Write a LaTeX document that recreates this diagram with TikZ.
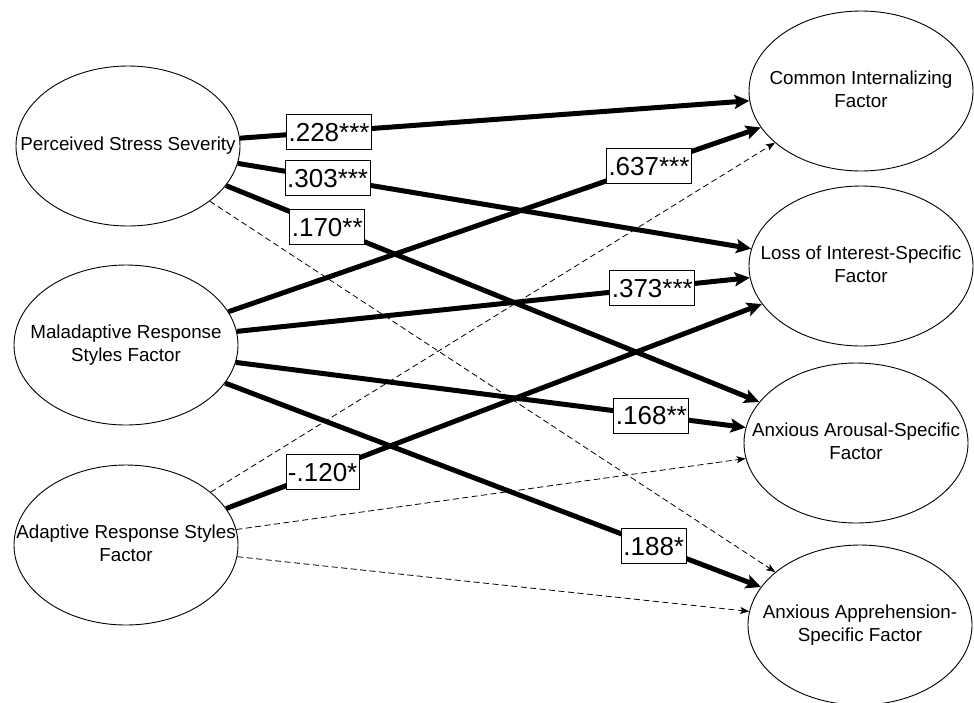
\documentclass[tikz,border=0pt]{standalone}
\usepackage{fontspec}
\setmainfont{Liberation Sans}
\usetikzlibrary{shapes.geometric,arrows.meta}
\newcommand{\lat}[1]{\makebox[0pt]{\begin{tabular}{@{}c@{}}#1\end{tabular}}}
\begin{document}
\begin{tikzpicture}[x=1pt,y=-1pt,
  latent/.style={ellipse,draw,line width=0.9pt,minimum width=224pt,minimum height=160pt,inner sep=0pt,font=\fontsize{18.8}{23}\selectfont},
  strong/.style={line width=5pt,-{Stealth[length=15pt,width=14pt,inset=3pt]}},
  weak/.style={line width=0.8pt,dash pattern=on 6pt off 3.5pt,-{Stealth[length=9pt,width=7pt,inset=2pt]}},
  coef/.style={draw,fill=white,line width=0.9pt,inner xsep=2pt,inner ysep=8pt,text height=19pt,text depth=0pt,font=\fontsize{26}{30}\selectfont}]
\useasboundingbox (0,0) rectangle (974,702);
\fill[white] (0,0) rectangle (974,702);

\node[latent] (pss) at (128,146) {\lat{Perceived Stress Severity}};
\node[latent] (mal) at (126,345) {\lat{Maladaptive Response\\Styles Factor}};
\node[latent] (ada) at (126,545) {\lat{Adaptive Response Styles\\Factor}};
\node[latent] (com) at (861,91) {\lat{Common Internalizing\\Factor}};
\node[latent] (los) at (861,266) {\lat{Loss of Interest-Specific\\Factor}};
\node[latent] (aro) at (856,443) {\lat{Anxious Arousal-Specific\\Factor}};
\node[latent] (app) at (860,625) {\lat{Anxious Apprehension-\\Specific Factor}};

\draw[weak] (pss.-34) -- (app.148);
\draw[weak] (ada.32) -- (com.211);
\draw[weak] (ada.8) -- (aro.188);
\draw[weak] (ada.-6) -- (app.173);

\draw[strong] (pss.4) -- node[coef,pos=0.175] (l1) {.228***} (com.185);
\draw[strong] (pss.-9) -- node[coef,pos=0.175] (l2) {.303***} (los.171);
\draw[strong] (pss.-22) -- node[coef,pos=0.19] (l3) {.170**} (aro.157);
\draw[strong] (mal.18) -- node[coef,pos=0.79] (l4) {.637***} (com.200);
\draw[strong] (mal.7) -- node[coef,pos=0.81] (l5) {.373***} (los.186);
\draw[strong] (mal.-9) -- node[coef,pos=0.815] (l6) {.168**} (aro.172);
\draw[strong] (mal.-21) -- node[coef,pos=0.8] (l7) {.188*} (app.159);
\draw[strong] (ada.20) -- node[coef,pos=0.18] (l8) {-.120*} (los.201);
\end{tikzpicture}
\end{document}
